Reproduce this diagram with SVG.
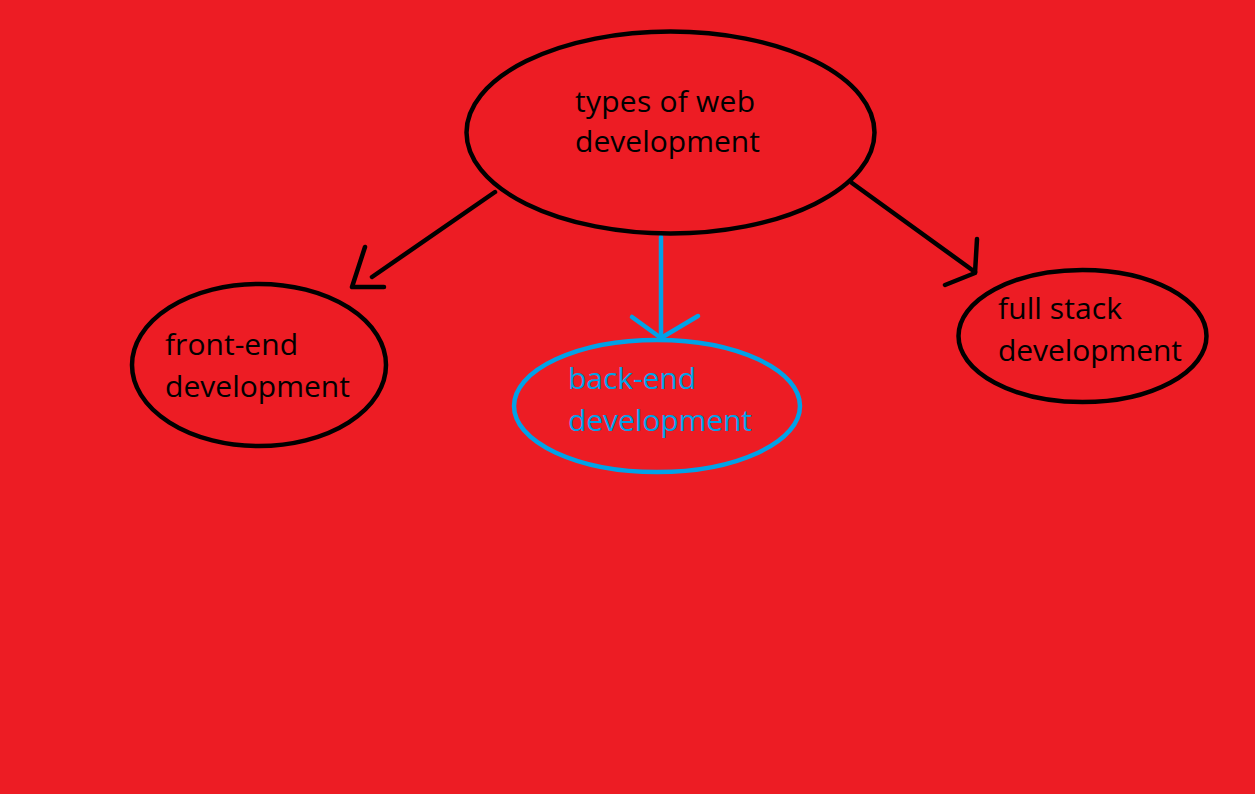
<svg xmlns="http://www.w3.org/2000/svg" width="1255" height="794" viewBox="0 0 1255 794">
<style>
.node{fill:none;stroke:#000;stroke-width:4.5}
.blue{stroke:#00A2E8}
.lbl{font-family:"Open Sans","Noto Sans","DejaVu Sans",sans-serif;font-size:30px;fill:#000}
.lblb{fill:#00A2E8}
.edge{fill:none;stroke:#000;stroke-width:4.5;stroke-linecap:round;stroke-linejoin:round}
</style>
<rect x="0" y="0" width="1255" height="794" fill="#ED1C24"/>
<g id="connectors">
<path class="edge" d="M495,192 L372,277"/>
<path class="edge" d="M365,247 L352,287 L384,287"/>
<path class="edge" style="stroke:#00A2E8" d="M661,237 L661,337"/>
<path class="edge" style="stroke:#00A2E8" d="M632,317 L661,338 L698,316"/>
<path class="edge" d="M852,183 L975,272"/>
<path class="edge" d="M977,239 L975,273 L945,285"/>
</g>
<g id="node-types">
<ellipse class="node" cx="670.5" cy="132.5" rx="204" ry="101"/>
<text class="lbl" x="575" y="112" textLength="180">types of web</text>
<text class="lbl" x="575" y="152" textLength="185">development</text>
</g>
<g id="node-frontend">
<ellipse class="node" cx="259" cy="365" rx="127" ry="81"/>
<text class="lbl" x="165" y="355" textLength="133">front-end</text>
<text class="lbl" x="165" y="397" textLength="185">development</text>
</g>
<g id="node-backend">
<ellipse class="node blue" cx="657" cy="406" rx="143" ry="66"/>
<text class="lbl lblb" x="568" y="389" textLength="128">back-end</text>
<text class="lbl lblb" x="568" y="431" textLength="184">development</text>
</g>
<g id="node-fullstack">
<ellipse class="node" cx="1082.5" cy="336" rx="124" ry="66"/>
<text class="lbl" x="998" y="319" textLength="124">full stack</text>
<text class="lbl" x="998" y="361" textLength="184">development</text>
</g>
</svg>
